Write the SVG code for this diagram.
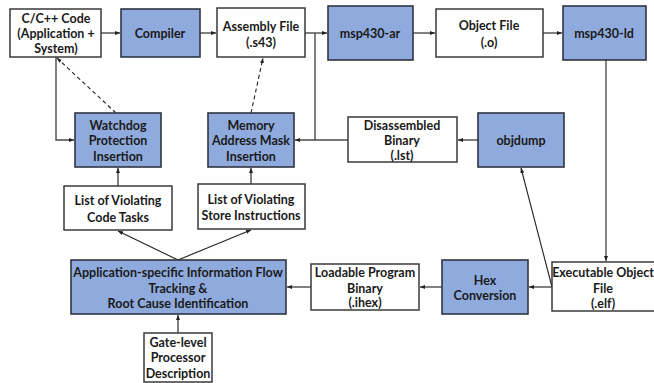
<svg xmlns="http://www.w3.org/2000/svg" width="654" height="383" viewBox="0 0 654 383">
  <defs>
    <style>
      .box { fill: #ffffff; stroke: #3a3a3a; stroke-width: 1.5; }
      .tool { fill: #8faadc; stroke: #2f3542; stroke-width: 1.6; }
      .lbl { font-family: Lato, "Liberation Sans", sans-serif; font-weight: bold; font-size: 12.5px; fill: #1a1a1a; text-anchor: middle; }
      .ln { fill: none; stroke: #4a4a4a; stroke-width: 1.4; }
      .thin { fill: none; stroke: #222; stroke-width: 1.1; }
      .dash { fill: none; stroke: #222; stroke-width: 1.1; stroke-dasharray: 4 3; }
    </style>
    <marker id="ah" viewBox="0 0 10 10" refX="10" refY="5" markerWidth="5" markerHeight="5" orient="auto" markerUnits="userSpaceOnUse">
      <path d="M0,1 L10,5 L0,9 z" fill="#222"/>
    </marker>
  </defs>
  <rect width="654" height="383" fill="#ffffff"/>

  <!-- connectors -->
  <g id="connectors">
    <line class="ln" x1="101" y1="33" x2="120" y2="33" marker-end="url(#ah)"/>
    <line class="ln" x1="200" y1="33" x2="216" y2="33" marker-end="url(#ah)"/>
    <line class="ln" x1="305" y1="33" x2="327" y2="33" marker-end="url(#ah)"/>
    <line class="ln" x1="413" y1="33" x2="435" y2="33" marker-end="url(#ah)"/>
    <line class="ln" x1="543" y1="33" x2="562" y2="33" marker-end="url(#ah)"/>
    <!-- assembly file feeds the mask insertion -->
    <polyline class="ln" points="315,33 315,140 295,140" marker-end="url(#ah)"/>
    <!-- disassembled binary feeds the mask insertion -->
    <line class="ln" x1="348" y1="140" x2="315" y2="140"/>
    <line class="ln" x1="478" y1="140" x2="458" y2="140" marker-end="url(#ah)"/>
    <!-- source feeds the watchdog insertion -->
    <polyline class="ln" points="56,57 56,140 74,140" marker-end="url(#ah)"/>
    <!-- dashed feedback to source and assembly -->
    <line class="dash" x1="116" y1="113" x2="57" y2="58" marker-end="url(#ah)"/>
    <line class="dash" x1="251" y1="113" x2="263" y2="58" marker-end="url(#ah)"/>
    <!-- linker to executable -->
    <line class="thin" x1="606" y1="60" x2="606" y2="261" marker-end="url(#ah)"/>
    <!-- executable to objdump -->
    <line class="thin" x1="552" y1="287" x2="521" y2="168" marker-end="url(#ah)"/>
    <!-- executable to hex conversion to loadable binary -->
    <line class="ln" x1="552" y1="287" x2="529" y2="287" marker-end="url(#ah)"/>
    <line class="ln" x1="442" y1="287" x2="420" y2="287" marker-end="url(#ah)"/>
    <line class="ln" x1="311" y1="287" x2="287" y2="287" marker-end="url(#ah)"/>
    <!-- lists up to insertion passes -->
    <line class="ln" x1="118" y1="186" x2="118" y2="168" marker-end="url(#ah)"/>
    <line class="ln" x1="251" y1="184" x2="251" y2="168" marker-end="url(#ah)"/>
    <!-- analysis outputs -->
    <line class="thin" x1="178" y1="260" x2="118" y2="231" marker-end="url(#ah)"/>
    <line class="thin" x1="178" y1="260" x2="251" y2="230" marker-end="url(#ah)"/>
    <!-- processor description input -->
    <line class="ln" x1="178" y1="333" x2="178" y2="315" marker-end="url(#ah)"/>
  </g>

  <g id="src">
    <rect class="box" x="10" y="9" width="91" height="48"/>
    <text class="lbl" x="56" y="22.5">C/C++ Code</text>
    <text class="lbl" x="56" y="37.5">(Application +</text>
    <text class="lbl" x="56" y="52.5">System)</text>
  </g>
  <g id="compiler">
    <rect class="tool" x="121" y="9" width="79" height="48"/>
    <text class="lbl" x="160" y="37.5">Compiler</text>
  </g>
  <g id="asm">
    <rect class="box" x="217" y="8" width="88" height="49"/>
    <text class="lbl" x="261" y="30.5">Assembly File</text>
    <text class="lbl" x="261" y="46.5">(.s43)</text>
  </g>
  <g id="ar">
    <rect class="tool" x="328" y="6" width="85" height="54"/>
    <text class="lbl" x="370" y="37.5">msp430-ar</text>
  </g>
  <g id="obj">
    <rect class="box" x="436" y="9" width="107" height="48"/>
    <text class="lbl" x="489" y="29.5">Object File</text>
    <text class="lbl" x="489" y="46.5">(.o)</text>
  </g>
  <g id="ld">
    <rect class="tool" x="563" y="6" width="83" height="54"/>
    <text class="lbl" x="604" y="37.5">msp430-ld</text>
  </g>
  <g id="watchdog">
    <rect class="tool" x="75" y="113" width="86" height="54"/>
    <text class="lbl" x="118" y="129.5">Watchdog</text>
    <text class="lbl" x="118" y="144.5">Protection</text>
    <text class="lbl" x="118" y="160.5">Insertion</text>
  </g>
  <g id="mask">
    <rect class="tool" x="208" y="113" width="86" height="54"/>
    <text class="lbl" x="251" y="129.5">Memory</text>
    <text class="lbl" x="251" y="144.5">Address Mask</text>
    <text class="lbl" x="251" y="160.5">Insertion</text>
  </g>
  <g id="disasm">
    <rect class="box" x="348" y="117" width="109" height="45"/>
    <text class="lbl" x="402" y="129.5">Disassembled</text>
    <text class="lbl" x="402" y="144.5">Binary</text>
    <text class="lbl" x="402" y="160">(.lst)</text>
  </g>
  <g id="objdump">
    <rect class="tool" x="478" y="113" width="86" height="54"/>
    <text class="lbl" x="521" y="144.5">objdump</text>
  </g>
  <g id="codetasks">
    <rect class="box" x="64" y="186" width="108" height="44"/>
    <text class="lbl" x="118" y="204.5">List of Violating</text>
    <text class="lbl" x="118" y="221.5">Code Tasks</text>
  </g>
  <g id="stores">
    <rect class="box" x="198" y="184" width="107" height="45"/>
    <text class="lbl" x="251" y="203.5">List of Violating</text>
    <text class="lbl" x="251" y="219.5">Store Instructions</text>
  </g>
  <g id="ift">
    <rect class="tool" x="71" y="260" width="215" height="54"/>
    <text class="lbl" x="178" y="276.5">Application-specific Information Flow</text>
    <text class="lbl" x="178" y="292.5">Tracking &amp;</text>
    <text class="lbl" x="178" y="307.5">Root Cause Identification</text>
  </g>
  <g id="gate">
    <rect class="box" x="144" y="333" width="68" height="49"/>
    <text class="lbl" x="178" y="346.5">Gate-level</text>
    <text class="lbl" x="178" y="361.5">Processor</text>
    <text class="lbl" x="178" y="377.5">Description</text>
  </g>
  <g id="ihex">
    <rect class="box" x="311" y="264" width="108" height="46"/>
    <text class="lbl" x="365" y="276.5">Loadable Program</text>
    <text class="lbl" x="365" y="292.5">Binary</text>
    <text class="lbl" x="365" y="307">(.ihex)</text>
  </g>
  <g id="hex">
    <rect class="tool" x="442" y="260" width="86" height="54"/>
    <text class="lbl" x="485" y="284.5">Hex</text>
    <text class="lbl" x="485" y="299.5">Conversion</text>
  </g>
  <g id="elf">
    <rect class="box" x="552" y="262" width="110" height="49"/>
    <text class="lbl" x="603" y="276.5" font-size="12">Executable Object</text>
    <text class="lbl" x="603" y="292.5">File</text>
    <text class="lbl" x="603" y="307.5">(.elf)</text>
  </g>
</svg>
